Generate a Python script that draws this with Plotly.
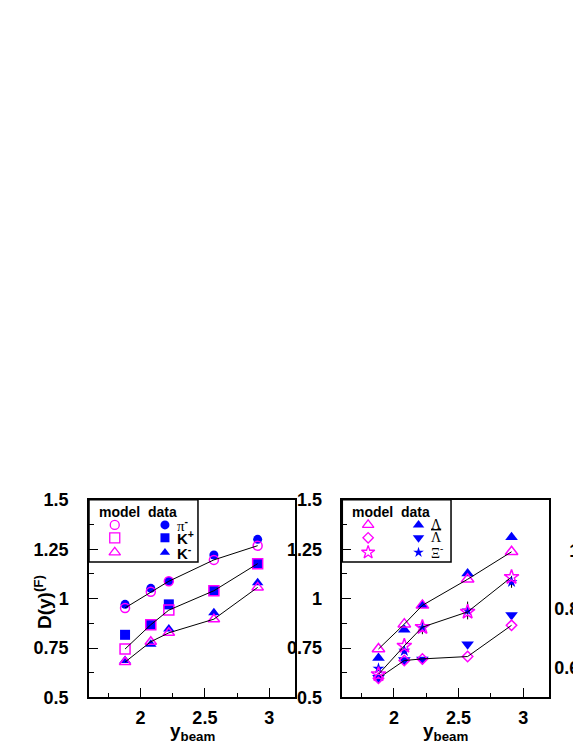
import plotly.graph_objects as go

# rapidity of the beam at the five SPS energies
y_beam = [1.88, 2.08, 2.22, 2.57, 2.91]

# left panel: mesons
pim_data = [0.971, 1.052, 1.088, 1.221, 1.300]
pim_model = [0.953, 1.035, 1.088, 1.196, 1.268]
kp_data = [0.817, 0.868, 0.971, 1.040, 1.177]
kp_model = [0.745, 0.868, 0.942, 1.040, 1.177]
km_data = [0.687, 0.769, 0.846, 0.929, 1.081]
km_model = [0.679, 0.782, 0.827, 0.896, 1.057]

# right panel: hyperons
lam_data = [0.700, 0.843, 0.966, 1.127, 1.311]
lam_model = [0.745, 0.871, 0.966, 1.098, 1.237]
alam_data = [0.600, 0.690, 0.692, 0.769, 0.917]
alam_model = [0.597, 0.687, 0.695, 0.707, 0.865]
xi_data = [0.646, 0.736, 0.850, 0.940, 1.085]
xi_err = [0.010, 0.015, 0.030, 0.045, 0.030]
xi_model = [0.617, 0.761, 0.856, 0.933, 1.109]

y_ticks = [0.5, 0.75, 1, 1.25, 1.5]
y_ticktext = ["0.5", "0.75", "1", "1.25", "1.5"]
x_ticks = [2, 2.5, 3]
x_ticktext = ["2", "2.5", "3"]
y3_ticks = [0.6, 0.8, 1.0]
y3_ticktext = ["0.6", "0.8", "1"]

BLUE = "#0000ff"
MAG = "#ff00ff"
W, H = 581, 752

fig = go.Figure()


def add_set(xa, ya, data, model, sym, sym_model, size, size_model, err=None):
    # data (filled, blue) first, then the model points and the line on top
    tr = dict(x=y_beam, y=data, mode="markers", xaxis=xa, yaxis=ya,
              marker=dict(symbol=sym, size=size, color=BLUE), showlegend=False,
              cliponaxis=False)
    if err is not None:
        tr["error_y"] = dict(type="data", array=err, color="black", thickness=1, width=0)
    fig.add_trace(go.Scatter(**tr))
    fig.add_trace(go.Scatter(x=y_beam, y=model, mode="markers", xaxis=xa, yaxis=ya,
                             marker=dict(symbol=sym_model, size=size_model, color=MAG,
                                         line=dict(width=1.5, color=MAG)),
                             showlegend=False, cliponaxis=False))
    fig.add_trace(go.Scatter(x=y_beam, y=model, mode="lines", xaxis=xa, yaxis=ya,
                             line=dict(color="black", width=1), showlegend=False))


add_set("x", "y", pim_data, pim_model, "circle", "circle-open", 9, 9)
add_set("x", "y", kp_data, kp_model, "square", "square-open", 10, 10)
add_set("x", "y", km_data, km_model, "triangle-up", "triangle-up-open", 10, 10)
add_set("x2", "y2", lam_data, lam_model, "triangle-up", "triangle-up-open", 11, 11)
add_set("x2", "y2", alam_data, alam_model, "triangle-down", "diamond-open", 11, 8)
add_set("x2", "y2", xi_data, xi_model, "star", "star-open", 9, 11, err=xi_err)

# legend keys (drawn by hand, ROOT style)
leg_x = [1.80, 2.19]
leg_y = [1.373, 1.308, 1.234]
leg_left = [("circle-open", 9, "circle", 9), ("square-open", 10, "square", 9),
            ("triangle-up-open", 10, "triangle-up", 9)]
leg_right = [("triangle-up-open", 10, "triangle-up", 10), ("diamond-open", 8, "triangle-down", 10),
             ("star-open", 10, "star", 8)]
for xa, ya, keys in [("x", "y", leg_left), ("x2", "y2", leg_right)]:
    for (mo, so, md, sd), yy in zip(keys, leg_y):
        fig.add_trace(go.Scatter(x=[leg_x[0]], y=[yy], mode="markers", xaxis=xa, yaxis=ya,
                                 marker=dict(symbol=mo, size=so, color=MAG,
                                             line=dict(width=1.3, color=MAG)),
                                 showlegend=False, cliponaxis=False))
        fig.add_trace(go.Scatter(x=[leg_x[1]], y=[yy], mode="markers", xaxis=xa, yaxis=ya,
                                 marker=dict(symbol=md, size=sd, color=BLUE),
                                 showlegend=False, cliponaxis=False))

# invisible trace so the third (cut off) panel axis is drawn
fig.add_trace(go.Scatter(x=[0.5], y=[0.7], xaxis="x3", yaxis="y3", mode="markers",
                         marker=dict(opacity=0), showlegend=False, hoverinfo="skip"))

tick_font = dict(family="Liberation Sans", size=18, color="black", weight="bold")
xdom1 = [81 / W, 287 / W]
xdom2 = [334.3 / W, 541 / W]
ydom = [1 - 698 / H, 1 - 495 / H]

xax = dict(range=[1.6, 3.2], tickvals=x_ticks, ticktext=x_ticktext, ticks="inside",
           ticklen=10, tickwidth=1, tickcolor="black", showline=True, linecolor="black",
           linewidth=1.5, mirror=True, showgrid=False, zeroline=False, tickfont=tick_font,
           ticklabelstandoff=3,
           minor=dict(dtick=0.25, tick0=0, ticks="inside", ticklen=5, tickcolor="black"))
yax = dict(range=[0.5, 1.5], tickvals=y_ticks, ticktext=y_ticktext, ticks="inside",
           ticklen=9, tickwidth=1, tickcolor="black", showline=True, linecolor="black",
           linewidth=1.5, mirror=True, showgrid=False, zeroline=False, tickfont=tick_font,
           ticklabelstandoff=15,
           minor=dict(dtick=0.125, tick0=0.5, ticks="inside", ticklen=5, tickcolor="black"))

fig.update_layout(
    width=W, height=H,
    margin=dict(l=0, r=0, t=0, b=0),
    paper_bgcolor="white", plot_bgcolor="white",
    xaxis=dict(xax, domain=xdom1, anchor="y"),
    yaxis=dict(yax, domain=ydom, anchor="x"),
    xaxis2=dict(xax, domain=xdom2, anchor="y2"),
    yaxis2=dict(yax, domain=ydom, anchor="x2"),
    xaxis3=dict(domain=[0.985, 0.995], range=[0, 1], visible=False, anchor="y3"),
    yaxis3=dict(range=[0.5, 1.171], domain=ydom, anchor="x3", side="left",
                tickvals=y3_ticks, ticktext=y3_ticktext, showline=False, ticks="",
                showgrid=False, zeroline=False, tickfont=tick_font),
)

# legend boxes
for xr, yr, x1 in [("x domain", "y domain", 0.529), ("x2 domain", "y2 domain", 0.526)]:
    fig.add_shape(type="rect", xref=xr, yref=yr, x0=0, x1=x1, y0=0.685, y1=1,
                  line=dict(color="black", width=1.5), fillcolor="white", layer="below")

head_font = dict(family="Liberation Sans", size=14, color="black", weight="bold")
for xa, ya in [("x", "y"), ("x2", "y2")]:
    fig.add_annotation(x=leg_x[0] + 0.035, y=1.437, xref=xa, yref=ya, text="model",
                       showarrow=False, font=head_font, xanchor="center", yanchor="middle")
    fig.add_annotation(x=leg_x[1] - 0.02, y=1.437, xref=xa, yref=ya, text="data",
                       showarrow=False, font=head_font, xanchor="center", yanchor="middle")

left_labels = ["<span style='font-family:Liberation Serif;font-weight:normal'>π</span><sup>-</sup>",
               "K<sup>+</sup>", "K<sup>-</sup>"]
right_labels = ["Λ", "<span style='text-decoration:overline'>Λ</span>", "Ξ<sup>-</sup>"]
for lab, yy in zip(left_labels, leg_y):
    fig.add_annotation(x=2.27, y=yy, xref="x", yref="y", text=lab, showarrow=False,
                       xanchor="left", yanchor="middle",
                       font=dict(family="Liberation Sans", size=15, color="black",
                                 weight="bold"))
for lab, yy in zip(right_labels, leg_y):
    fig.add_annotation(x=2.27, y=yy, xref="x2", yref="y2", text=lab, showarrow=False,
                       xanchor="left", yanchor="middle",
                       font=dict(family="Liberation Serif", size=14, color="black"))

# axis titles
title_font = dict(family="Liberation Sans", size=19, color="black", weight="bold")
fig.add_annotation(x=35 / W, y=1 - 600 / H, xref="paper", yref="paper", textangle=-90,
                   text="D(y)<sup>(F)</sup>", showarrow=False, font=title_font,
                   xanchor="center", yanchor="middle")
for cx in [184 / W, 437.5 / W]:
    fig.add_annotation(x=cx, y=1 - 733 / H, xref="paper", yref="paper",
                       text="y<sub>beam</sub>", showarrow=False, font=title_font,
                       xanchor="center", yanchor="middle")

fig.write_html("out.html")
